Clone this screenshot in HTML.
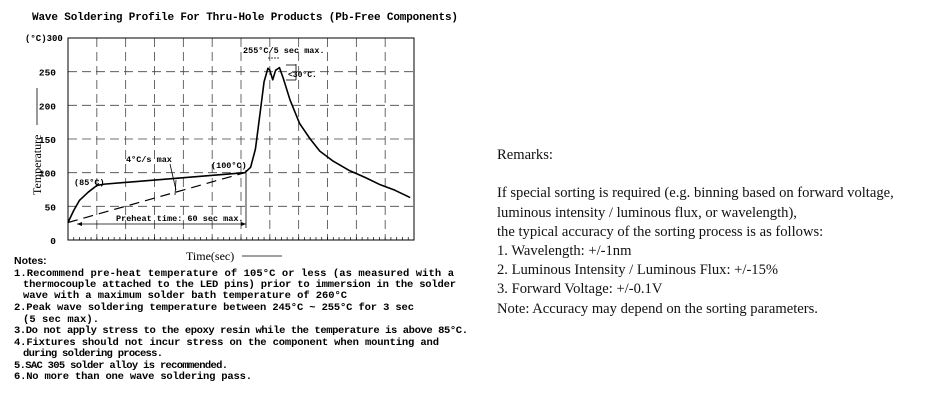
<!DOCTYPE html>
<html><head><meta charset="utf-8"><style>
body{margin:0;width:933px;height:406px;background:#fff;overflow:hidden;position:relative}
#remarks{position:absolute;left:497px;top:146px;font-family:"Liberation Serif",serif;font-size:14.6px;line-height:19.2px;color:#111}
#remarks div{white-space:nowrap}
svg text{font-family:"Liberation Mono",monospace;font-weight:bold;fill:#000}
svg text.ser{font-family:"Liberation Serif",serif;font-weight:normal}
</style></head><body>
<svg id="chart" width="470" height="406" style="position:absolute;left:0;top:0">
<text x="32" y="20" font-size="11" textLength="426">Wave Soldering Profile For Thru-Hole Products (Pb-Free Components)</text>
<g id="grid"></g><g id="axes"></g><g id="marks"></g>
<g font-size="9">
<text x="25" y="41" font-size="9">(°C)300</text>
<text x="74" y="185" font-size="8.5">(85°C)</text>
<text x="126" y="162" font-size="8.5">4°C/s max</text>
<line x1="170" y1="164" x2="176" y2="190" stroke="#000" stroke-width="0.8"/>
<line x1="176" y1="180" x2="175" y2="195" stroke="#000" stroke-width="0.8"/>
<text x="211" y="168" font-size="8.5">(100°C)</text>
<text x="243" y="53" font-size="8.5">255°C/5 sec max.</text>
<line x1="268" y1="58" x2="280" y2="58" stroke="#000" stroke-dasharray="2,1" stroke-width="0.8"/>
<line x1="286" y1="65" x2="296" y2="65" stroke="#000" stroke-width="0.8"/>
<line x1="296" y1="64" x2="296" y2="80" stroke="#000" stroke-width="0.8"/>
<line x1="286" y1="80" x2="296" y2="80" stroke="#000" stroke-width="0.8"/>
<text x="288" y="77" font-size="8">&lt;30°C.</text>
<text x="116" y="221" font-size="8.5">Preheat time: 60 sec max.</text>
<line x1="77" y1="224" x2="246" y2="224" stroke="#000" stroke-width="0.8"/>
<path d="M77,224 l5,-2 v4z M246,224 l-5,-2 v4z"/>
<line x1="246" y1="170" x2="246" y2="228" stroke="#000" stroke-width="0.8"/>
<text class="ser" x="186" y="260" font-size="12">Time(sec)</text>
<line x1="242" y1="256" x2="282" y2="256" stroke="#000" stroke-width="0.8"/>
<text class="ser" transform="translate(41,195) rotate(-90)" font-size="12">Temperature</text>
<line x1="37" y1="125" x2="37" y2="88" stroke="#000" stroke-width="0.8"/>
</g>
<g font-size="10.5">
<text x="14" y="264" style="font-family:'Liberation Sans',sans-serif">Notes:</text>
<text x="14" y="276" textLength="440">1.Recommend pre-heat temperature of 105°C or less (as measured with a</text>
<text x="23" y="287" textLength="433">thermocouple attached to the LED pins) prior to immersion in the solder</text>
<text x="23" y="298" textLength="324">wave with a maximum solder bath temperature of 260°C</text>
<text x="14" y="310" textLength="400">2.Peak wave soldering temperature between 245°C ~ 255°C for 3 sec</text>
<text x="23" y="322" textLength="76">(5 sec max).</text>
<text x="14" y="333" textLength="454">3.Do not apply stress to the epoxy resin while the temperature is above 85°C.</text>
<text x="14" y="345" textLength="425">4.Fixtures should not incur stress on the component when mounting and</text>
<text x="23" y="356" textLength="140">during soldering process.</text>
<text x="14" y="368" textLength="214">5.SAC 305 solder alloy is recommended.</text>
<text x="14" y="379" textLength="238">6.No more than one wave soldering pass.</text>
</g>
</svg>
<div id="remarks">
<div>Remarks:</div><div>&nbsp;</div>
<div>If special sorting is required (e.g. binning based on forward voltage,</div>
<div>luminous intensity / luminous flux, or wavelength),</div>
<div>the typical accuracy of the sorting process is as follows:</div>
<div>1. Wavelength: +/-1nm</div>
<div>2. Luminous Intensity / Luminous Flux: +/-15%</div>
<div>3. Forward Voltage: +/-0.1V</div>
<div>Note: Accuracy may depend on the sorting parameters.</div>
</div>
<script>
const yTicks=[0,50,100,150,200,250];
const xGridTimes=[30,60,90,120,150,180,210,240,270,300,330];
const profileTimes=[0,6,12,21,30,38,184,190,195,200,204,208,210,213,216,220,224,231,241,252,262,276,293,309,325,340,356];
const profileTemps=[26,44,59,71,81,83,100,108,135,190,235,255,252,238,252,256,240,208,173,150,132,117,103,93,82,74,63];
const rampTimes=[0,184];
const rampTemps=[26,100];
const L=68,R=414,T=38,B=240,XMAX=360,YMAX=300;
const xs=t=>L+t/XMAX*(R-L), ys=v=>B-v/YMAX*(B-T);
const NS='http://www.w3.org/2000/svg';
function mk(tag,attrs,parent){const e=document.createElementNS(NS,tag);for(const k in attrs)e.setAttribute(k,attrs[k]);document.getElementById(parent).appendChild(e);return e;}
yTicks.forEach(v=>{if(v>0){const g=mk('line',{x1:L,x2:R,y1:ys(v),y2:ys(v),stroke:'#444','stroke-width':0.8,'stroke-dasharray':'9,5'},'grid');

}
const t=mk('text',{x:L-12,y:ys(v)+4,'text-anchor':'end','font-size':9.5},'axes');t.textContent=v;

});
xGridTimes.forEach(t=>{const g=mk('line',{x1:xs(t),x2:xs(t),y1:T,y2:B,stroke:'#444','stroke-width':0.8,'stroke-dasharray':'9,5'},'grid');

});
for(let t=6;t<XMAX;t+=6){const m=mk('line',{x1:xs(t),x2:xs(t),y1:B,y2:B-3,stroke:'#000','stroke-width':0.7},'axes');

}
const fr=mk('rect',{x:L,y:T,width:R-L,height:B-T,fill:'none',stroke:'#000','stroke-width':1},'axes');


const rp=mk('polyline',{points:rampTimes.map((t,i)=>xs(t)+','+ys(rampTemps[i])).join(' '),fill:'none',stroke:'#000','stroke-width':1.2,'stroke-dasharray':'10,6'},'marks');


const pl=mk('polyline',{points:profileTimes.map((t,i)=>xs(t)+','+ys(profileTemps[i])).join(' '),fill:'none',stroke:'#000','stroke-width':1.6,'stroke-linejoin':'round'},'marks');


</script>
</body></html>
